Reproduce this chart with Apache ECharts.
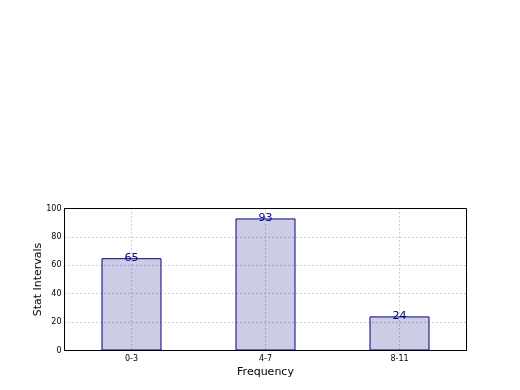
<!DOCTYPE html>
<html><head><meta charset="utf-8">
<script src="https://cdn.jsdelivr.net/npm/echarts@6/dist/echarts.min.js"></script>
<style>html,body{margin:0;padding:0;background:#fff}#c{width:520px;height:390px}</style>
</head><body><div id="c"></div>
<script>
const categories = ['0-3', '4-7', '8-11'];
const values = [65, 93, 24];
const yTicks = [0, 20, 40, 60, 80, 100];

const chart = echarts.init(document.getElementById('c'));
chart.setOption({
  animation: false,
  grid: { left: 64.5, right: 53.5, top: 208.5, bottom: 39.5, show: true, borderColor: '#000', borderWidth: 1, backgroundColor: 'transparent', z: 3 },
  xAxis: {
    type: 'category', data: categories, name: 'Frequency', nameLocation: 'middle', nameGap: 16,
    nameTextStyle: { fontFamily: 'DejaVu Sans', fontSize: 11, color: '#000' },
    axisLine: { lineStyle: { color: '#000' } },
    axisTick: { show: false },
    axisLabel: { fontFamily: 'DejaVu Sans', fontSize: 8, color: '#000', margin: 4 },
    splitLine: { show: true, alignWithLabel: true, lineStyle: { color: '#a0a0a0', type: [1, 3], width: 1 } }
  },
  yAxis: {
    type: 'value', min: 0, max: 100, interval: 20, name: 'Stat Intervals', nameLocation: 'middle', nameGap: 21,
    nameMoveOverlap: false,
    nameTextStyle: { fontFamily: 'DejaVu Sans', fontSize: 11, color: '#000' },
    axisLine: { show: true, lineStyle: { color: '#000' } },
    axisTick: { show: false },
    axisLabel: { fontFamily: 'DejaVu Sans', fontSize: 8, color: '#000', margin: 3,
      formatter: v => yTicks.includes(v) ? String(v) : '' },
    splitLine: { show: true, showMaxLine: false, showMinLine: false, lineStyle: { color: '#a0a0a0', type: [1, 3], width: 1 } }
  },
  series: [{
    type: 'bar', data: values, barWidth: 60,
    itemStyle: { color: 'rgba(0,0,128,0.2)', borderColor: 'rgb(0,0,128)', borderWidth: 1 },
    label: { show: true, position: 'top', distance: -5, color: 'rgb(0,0,128)', fontFamily: 'DejaVu Sans', fontSize: 11 },
    z: 1
  }]
});
</script></body></html>
